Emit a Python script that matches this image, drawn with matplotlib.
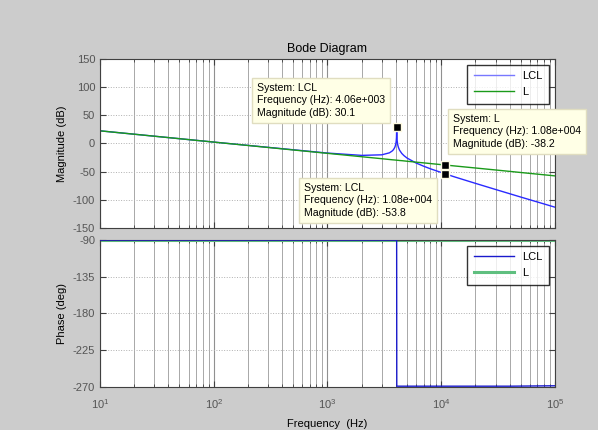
import numpy as np
import matplotlib
matplotlib.use("Agg")
import matplotlib.pyplot as plt
from matplotlib.ticker import FixedLocator, LogLocator, NullFormatter

plt.rcParams['font.family'] = ['Liberation Sans', 'DejaVu Sans']
plt.rcParams['mathtext.default'] = 'regular'
plt.rcParams['axes.unicode_minus'] = False

# values
freq = [10, 100, 1000, 2000, 3000, 3500, 3700, 3800, 3900, 3950, 4000, 4020, 4040,
        4060, 4080, 4100, 4150, 4200, 4300, 4500, 4700, 5000, 6000, 7000, 8000,
        10800, 13000, 20000, 30000, 50000, 100000]
mag_lcl = [22.5, 2.5, -17.0, -21.1, -20.1, -16.6, -13.4, -11.0, -7.1, -4.0, 1.2, 4.6, 10.6,
           30.1, 10.4, 4.4, -2.9, -6.8, -11.9, -17.7, -21.5, -25.8, -34.6, -40.3, -44.8,
           -53.8, -59.1, -70.8, -81.6, -95.1, -113.1]
mag_l = [22.5, 2.5, -17.5, -23.5, -27.0, -28.4, -28.9, -29.1, -29.3, -29.4, -29.5, -29.6, -29.6,
         -29.7, -29.7, -29.7, -29.9, -29.9, -30.2, -30.5, -30.9, -31.5, -33.1, -34.4, -35.6,
         -38.2, -39.8, -43.5, -47.0, -51.5, -57.5]

ph_freq = [10, 4055, 4065, 40000, 100000]
ph_lcl = [-90, -90, -269, -269, -268.5]
ph_l = [-90, -90, -90, -90, -90]

tips = [("LCL", 4060, 30.1), ("L", 10800, -38.2), ("LCL", 10800, -53.8)]

fig = plt.figure(figsize=(5.98, 4.30), dpi=100, facecolor='#cccccc')
ax1 = fig.add_axes([0.1672, 0.4698, 0.7609, 0.393])
ax2 = fig.add_axes([0.1672, 0.1000, 0.7609, 0.3419])

tick_col = '#555555'
for ax in (ax1, ax2):
    ax.set_xscale('log')
    ax.set_xlim(10, 1e5)
    ax.xaxis.set_major_locator(FixedLocator([10, 100, 1000, 1e4, 1e5]))
    ax.xaxis.set_minor_locator(LogLocator(base=10, subs=np.arange(2, 10)))
    ax.xaxis.set_minor_formatter(NullFormatter())
    ax.grid(True, which='major', axis='x', color='#909090', lw=0.8)
    ax.grid(True, which='minor', axis='x', color='#a8a8a8', lw=0.7)
    ax.grid(True, which='major', axis='y', color='#b0b0b0', lw=0.7, ls=':')
    ax.tick_params(which='both', direction='in', top=True, right=True,
                   labelsize=8, labelcolor=tick_col, color='#404040')
    ax.tick_params(which='major', length=4)
    ax.tick_params(which='minor', length=2)
    for s in ax.spines.values():
        s.set_color('#404040')

leg_kw = dict(loc='upper right', fontsize=8, frameon=True, fancybox=False,
              edgecolor='black', handlelength=3.6, borderaxespad=0.5,
              labelspacing=0.55, borderpad=0.6)

ax1.plot(freq, mag_lcl, color='#2a2aff', lw=1, label='LCL')
ax1.plot(freq, mag_l, color='#1a9a1a', lw=1, label='L')
ax1.set_ylim(-150, 150)
ax1.set_yticks([-150, -100, -50, 0, 50, 100, 150])
ax1.set_xticklabels([])
ax1.set_ylabel('Magnitude (dB)', fontsize=8)
ax1.set_title('Bode Diagram', fontsize=9, pad=5)
leg1 = ax1.legend(**leg_kw)
leg1.get_frame().set_linewidth(1)
leg1.get_lines()[0].set_color('#7878ff')

ax2.plot(ph_freq, ph_l, color='#5fbf7f', lw=2.2, label='L', zorder=2)
ax2.plot(ph_freq, ph_lcl, color='#1a1acc', lw=1, label='LCL', zorder=3)
ax2.set_ylim(-270, -90)
ax2.set_yticks([-270, -225, -180, -135, -90])
ax2.set_xticklabels(['$10^{1}$', '$10^{2}$', '$10^{3}$', '$10^{4}$', '$10^{5}$'])
ax2.tick_params(axis='x', which='major', pad=7)
ax2.set_ylabel('Phase (deg)', fontsize=8)
ax2.set_xlabel('Frequency  (Hz)', fontsize=8, labelpad=6)
h, lab = ax2.get_legend_handles_labels()
leg2 = ax2.legend(h[::-1], lab[::-1], **leg_kw)
leg2.get_frame().set_linewidth(1)

# data tips, boxes placed in figure pixels (left, top of text)
box_pos = [(257, 347), (453, 316), (304, 247)]
for (sysname, f, m), (bx, by) in zip(tips, box_pos):
    ax1.plot(f, m, 's', ms=6, mfc='black', mec='#fffbe0', mew=1, zorder=6)
    txt = "System: %s\nFrequency (Hz): %.2e\nMagnitude (dB): %s" % (
        sysname, f, m)
    txt = txt.replace('e+0', 'e+00')
    ax1.annotate(txt, xy=(f, m), xytext=(bx, by), textcoords='figure pixels',
                 fontsize=7.6, va='top', ha='left', linespacing=1.3, zorder=5,
                 annotation_clip=False,
                 bbox=dict(boxstyle='square,pad=0.5', fc='#ffffe6', ec='#e0ddc0', lw=1))

fig.savefig('out.png', dpi=100, facecolor=fig.get_facecolor())
